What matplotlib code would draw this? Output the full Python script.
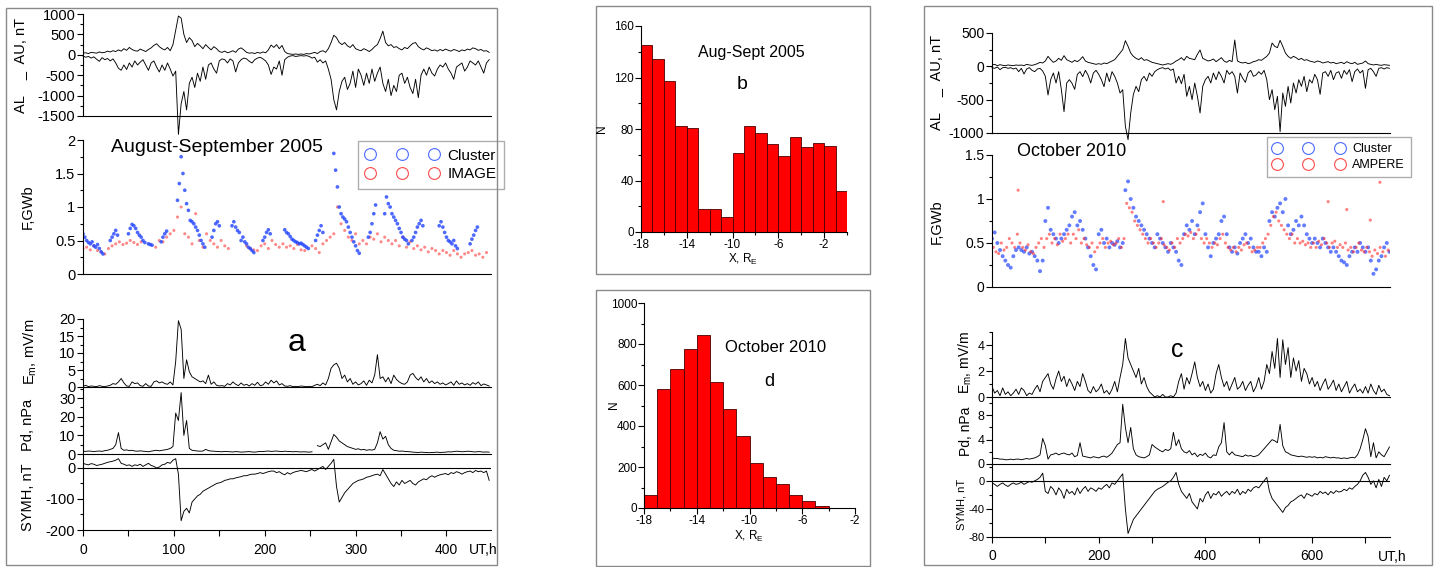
import numpy as np
import matplotlib
matplotlib.use('Agg')
import matplotlib.pyplot as plt
from matplotlib.ticker import MultipleLocator, FuncFormatter
from matplotlib.lines import Line2D
from matplotlib.patches import Rectangle

plt.rcParams['font.family'] = ['Liberation Sans', 'DejaVu Sans']
plt.rcParams['axes.unicode_minus'] = False
plt.rcParams['axes.linewidth'] = 0.8

# ---------------- August-September 2005 (panel a), 3 h samples ----------------
al_05 = [-30, -60, -40, -80, -50, -110, -160, -70, -120, -90,
         -150, -100, -200, -330, -380, -250, -360, -200, -300, -150,
         -250, -180, -120, -250, -380, -200, -150, -300, -420, -250,
         -380, -200, -350, -520, -400, -1950, -1200, -900, -1350, -700,
         -550, -800, -450, -650, -300, -600, -250, -200, -350, -450,
         -150, -100, -120, -200, -100, -150, -420, -200, -120, -80,
         -100, -160, -200, -120, -80, -60, -100, -150, -250, -480,
         -300, -350, -150, -500, -120, -60, -30, -20, -40, -30,
         -20, -30, -20, -40, -80, -60, -180, -120, -200, -150,
         -350, -600, -1100, -1350, -900, -650, -550, -850, -700, -400,
         -800, -350, -500, -750, -450, -700, -350, -650, -450, -300,
         -700, -900, -600, -1000, -750, -900, -500, -450, -700, -550,
         -800, -950, -600, -1050, -500, -350, -500, -300, -450, -520,
         -350, -250, -300, -200, -350, -450, -600, -300, -250, -200,
         -400, -300, -150, -200, -250, -150, -300, -450, -200, -120]
au_05 = [40, 50, 30, 60, 50, 40, 70, 50, 60, 90,
         70, 100, 80, 120, 90, 150, 110, 180, 130, 100,
         90, 140, 110, 80, 130, 170, 230, 270, 200, 150,
         120, 180, 100, 250, 600, 950, 900, 500, 300, 420,
         350, 200, 280, 220, 150, 250, 180, 120, 200, 150,
         80, 60, 90, 50, 70, 100, 60, 140, 170, 120,
         60, 40, 50, 30, 60, 40, 70, 50, 120, 240,
         180, 250, 150, 230, 80, 30, 20, 10, 20, 10,
         20, 10, 30, 20, 40, 60, 30, 80, 100, 60,
         150, 300, 480, 420, 300, 250, 300, 220, 180, 250,
         150, 120, 100, 150, 120, 80, 130, 200, 250, 400,
         580, 300, 220, 250, 180, 200, 150, 120, 180, 150,
         220, 280, 300, 200, 150, 120, 170, 140, 100, 120,
         90, 130, 100, 140, 110, 90, 130, 110, 80, 120,
         100, 140, 120, 170, 150, 110, 130, 90, 100, 60]

cluster05_t = [0, 2, 4, 6, 8, 10, 12, 14, 16, 18, 20, 22,
               30, 32, 34, 36, 38,
               50, 52, 54, 56, 58, 60, 62, 64, 66, 68,
               72, 74, 76,
               86, 88, 90, 92,
               104, 106, 108, 110, 112, 114, 116, 118, 120, 122, 124, 126, 128, 130, 132, 134,
               142, 144, 146, 148, 150,
               164, 166, 168, 170, 172, 174, 176, 178, 180, 182, 184, 186, 188,
               198, 200, 202, 204, 206,
               222, 224, 226, 228, 230, 232, 234, 236, 238, 240, 242, 244, 246, 248,
               256, 258, 260, 262, 264,
               276, 278, 280, 282, 284, 286, 288, 290, 292, 294, 296, 298, 300, 302, 304,
               314, 316, 318, 320, 322,
               332, 334, 336, 338, 340, 342, 344, 346, 348, 350, 352, 354, 356, 358,
               362, 364, 366, 368, 370, 372, 374,
               392, 394, 396, 398, 400, 402, 404, 406, 408, 410, 412,
               426, 428, 430, 432, 434]
cluster05_f = [0.6, 0.55, 0.5, 0.47, 0.45, 0.48, 0.42, 0.4, 0.44, 0.38, 0.33, 0.3,
               0.5, 0.55, 0.6, 0.65, 0.58,
               0.6, 0.68, 0.74, 0.72, 0.68, 0.62, 0.58, 0.55, 0.5, 0.47,
               0.45, 0.44, 0.43,
               0.48, 0.55, 0.6, 0.64,
               1.1, 1.35, 1.75, 1.5, 1.25, 1.05, 0.95, 0.8, 0.78, 0.75, 0.7, 0.65, 0.58, 0.5, 0.45, 0.4,
               0.55, 0.65, 0.75, 0.78, 0.72,
               0.72, 0.78, 0.7, 0.65, 0.62, 0.5, 0.55, 0.48, 0.45, 0.4, 0.38, 0.35, 0.32,
               0.5, 0.55, 0.62, 0.66, 0.6,
               0.66, 0.62, 0.6, 0.56, 0.52, 0.5, 0.48, 0.47, 0.45, 0.46, 0.44, 0.42, 0.4, 0.38,
               0.5, 0.58, 0.65, 0.72, 0.62,
               1.8, 1.55, 1.3, 1.0, 0.9, 0.85, 0.82, 0.78, 0.7, 0.62, 0.55, 0.48, 0.42, 0.35, 0.31,
               0.55, 0.62, 0.75, 0.9, 1.03,
               0.9, 1.15, 1.05, 1.0, 0.9, 0.85, 0.8, 0.75, 0.68, 0.62, 0.55, 0.52, 0.5, 0.45,
               0.5, 0.55, 0.62, 0.7, 0.75, 0.8, 0.72,
               0.72, 0.78, 0.7, 0.62, 0.55, 0.5, 0.48, 0.45, 0.5, 0.42, 0.38,
               0.45, 0.52, 0.58, 0.65, 0.7]

# IMAGE flux, 4 h samples (nan = no data)
nan = np.nan
image05_f = [0.38, 0.40, 0.36, 0.42, 0.35, 0.33,
             0.30, 0.38, 0.42, 0.45, 0.48, 0.44,
             0.46, 0.50, 0.47, 0.44, 0.48, nan,
             nan, nan, 0.40, 0.50, 0.48, 0.55,
             0.60, 0.65, 0.85, 1.0, 0.6, 0.55,
             0.45, 0.9, 0.5, 0.4, 0.6, 0.5,
             0.45, 0.4, 0.5, 0.42, 0.38, nan,
             nan, nan, nan, 0.42, 0.38, 0.36,
             0.35, 0.42, 0.45, 0.38, 0.5, 0.44,
             0.4, 0.45, 0.4, 0.42, 0.38, 0.44,
             0.36, 0.35, nan, 0.42, 0.38, 0.32,
             0.45, 0.5, 0.55, 0.6, 1.0, 0.75,
             0.65, 0.55, 0.5, 0.6, 0.45, 0.5,
             0.45, 0.55, 0.52, 0.6, 0.48, 0.55,
             0.5, 0.45, 0.5, 0.42, 0.55, 0.4,
             0.48, 0.38, 0.42, 0.36, 0.4, 0.33,
             0.38, 0.35, 0.3, 0.35, 0.32, 0.28,
             0.35, 0.3, 0.25, 0.3, 0.32, 0.35,
             0.28, 0.3, 0.25, 0.32, nan]

em_05 = [0.2, 0.5, 0.1, 0.3, 0.2, 0.1, 0.4, 0.2, 0.1, 0.3,
         0.5, 1.0, 0.8, 1.5, 2.5, 1.2, 0.3, 0.2, 1.5, 1.0,
         1.2, 0.4, 0.2, 1.0, 0.3, 0.2, 1.5, 1.8, 1.2, 1.5,
         1.0, 0.8, 1.5, 0.6, 7.5, 19.5, 17.0, 2.5, 8.0, 4.5,
         3.0, 2.5, 2.0, 1.5, 1.8, 1.0, 3.5, 0.8, 1.5, 0.5,
         0.3, 0.4, 0.2, 1.0, 0.6, 1.5, 0.8, 0.4, 1.2, 0.5,
         0.8, 0.3, 1.0, 0.5, 1.4, 0.4, 0.6, 1.5, 0.8, 2.0,
         1.2, 1.8, 0.6, 1.0, 0.3, 0.2, 0.4, 0.1, 0.2, 0.1,
         0.3, 0.2, 0.1, 0.2, 0.1, 0.5, 0.8, 0.4, 1.2, 0.6,
         2.5, 5.5, 6.5, 7.0, 5.5, 2.5, 3.5, 1.5, 2.5, 0.8,
         1.5, 0.6, 1.0, 1.8, 0.5, 2.0, 1.2, 3.5, 9.5, 2.5,
         3.0, 1.5, 2.8, 1.0, 3.5, 2.2, 1.5, 1.0, 0.8, 1.5,
         3.5, 4.0, 2.8, 2.0, 3.0, 1.5, 2.5, 1.2, 1.8, 1.0,
         1.5, 0.8, 1.2, 0.6, 1.0, 1.5, 0.5, 1.8, 0.8, 1.2,
         0.6, 1.0, 0.5, 1.3, 0.8, 1.5, 0.4, 0.9, 0.6, 0.3]
pd_05 = [1.5, 1.4, 1.6, 1.5, 1.3, 1.5, 1.6, 1.4, 1.8, 2.0,
         2.5, 3.0, 5.0, 11.5, 3.0, 2.0, 2.2, 1.8, 2.0, 1.6,
         1.5, 1.7, 1.5, 1.4, 1.2, 1.5, 1.8, 2.0, 1.7, 2.0,
         2.2, 2.5, 3.0, 4.0, 22.0, 18.0, 33.0, 10.0, 18.0, 3.0,
         2.0, 1.8, 1.6, 1.5, 1.6, 2.5, 1.8, 1.6, 1.5, 1.4,
         1.3, 1.2, 1.4, 1.3, 1.2, 1.1, 1.3, 1.2, 1.0, 1.1,
         1.2, 1.3, 1.1, 1.0, 1.2, 1.4, 1.3, 1.5, 1.6, 1.4,
         1.5, 1.6, 1.4, 1.3, 1.5, 1.4, 1.3, 1.2, 1.3, 1.2,
         1.1, 1.2, 1.1, 1.0, 1.2, nan, 4.5, 4.0, 5.0, 6.0,
         2.5, 6.5, 10.5, 9.0, 7.0, 6.0, 5.0, 4.0, 3.5, 3.0,
         2.5, 2.8, 2.2, 2.5, 2.0, 2.3, 2.1, 2.5, 6.0, 12.0,
         8.0, 9.5, 5.0, 3.0, 2.0, 1.8, 1.5, 1.6, 1.4, 1.3,
         1.2, 1.0, 0.9, 0.8, 1.0, 0.9, 0.8, 0.7, 0.8, 0.9,
         1.0, 0.8, 0.9, 1.0, 1.2, 1.1, 1.3, 1.5, 1.4, 1.2,
         1.3, 1.5, 1.4, 1.2, 1.1, 1.3, 1.2, 1.0, 1.1, 1.0]
symh_05 = [15, 12, 10, 14, 12, 8, 10, 12, 15, 18,
           20, 22, 25, 30, 15, 12, 8, 10, 5, 10,
           8, 12, 5, 10, 15, 8, 5, 0, 3, 10,
           12, 18, 15, 25, 30, -20, -170, -140, -130, -145,
           -110, -100, -90, -85, -75, -70, -65, -60, -55, -50,
           -48, -45, -40, -38, -35, -35, -32, -30, -28, -25,
           -25, -22, -20, -20, -18, -15, -18, -15, -12, -10,
           -10, -15, -12, -18, -22, -15, -20, -15, -12, -10,
           -8, -10, -12, -8, -5, -10, -5, 0, 5, -5,
           5, 15, 28, -60, -110, -95, -80, -70, -60, -50,
           -45, -40, -38, -35, -30, -28, -25, -22, -20, -25,
           -5, -20, -35, -50, -60, -45, -55, -40, -50, -45,
           -40, -50, -55, -45, -40, -35, -38, -30, -25, -30,
           -25, -22, -20, -18, -22, -15, -18, -12, -15, -20,
           -15, -12, -10, -15, -8, -12, -10, -15, -10, -40]

# ---------------- October 2010 (panel c), 5 h samples ----------------
al_10 = [-20, -30, -10, -50, -20, -15, -30, -20, -40, -25,
         -80, -30, -115, -40, -20, -60, -80, -40, -30, -70,
         -150, -430, -200, -100, -250, -80, -350, -680, -250, -200,
         -255, -345, -120, -80, -155, -60, -130, -250, -100, -60,
         -120, -200, -305, -100, -230, -80, -150, -250, -400, -350,
         -900, -1100, -700, -420, -300, -380, -200, -150, -220, -100,
         -150, -80, -50, -30, -20, -40, -25, -60, -40, -250,
         -150, -260, -120, -450, -300, -500, -250, -450, -700, -300,
         -200, -150, -250, -100, -200, -80, -150, -250, -60, -120,
         -80, -150, -400, -100, -180, -240, -100, -60, -150, -130,
         -80, -120, -60, -200, -500, -350, -650, -450, -980, -400,
         -600, -300, -550, -250, -400, -200, -300, -150, -380, -200,
         -250, -120, -200, -420, -100, -80, -150, -60, -200, -100,
         -80, -180, -60, -120, -50, -230, -80, -40, -100, -60,
         -330, -50, -30, -80, -150, -30, -20, -40, -20, -30]
au_10 = [20, 30, 10, 25, 15, 10, 20, 15, 10, 20,
         15, 20, 10, 30, 20, 15, 25, 40, 60, 50,
         80, 150, 100, 60, 80, 120, 90, 160, 100, 80,
         60, 90, 70, 100, 145, 80, 60, 50, 40, 30,
         40, 30, 50, 40, 60, 80, 100, 150, 200, 250,
         385, 300, 200, 150, 120, 100, 130, 90, 100, 80,
         60, 50, 40, 30, 20, 30, 40, 30, 50, 80,
         100, 130, 90, 150, 120, 110, 100, 180, 245, 120,
         100, 80, 90, 110, 70, 100, 130, 80, 60, 90,
         70, 395, 80, 60, 50, 60, 40, 50, 70, 80,
         100, 90, 120, 150, 200, 350, 300, 280, 390, 300,
         200, 150, 120, 150, 130, 100, 120, 90, 100, 80,
         70, 60, 80, 70, 50, 60, 70, 50, 60, 40,
         50, 60, 40, 70, 50, 40, 60, 30, 40, 50,
         80, 40, 30, 20, 30, 20, 15, 25, 20, 15]

cluster10_f = [0.55, 0.62, 0.5, 0.42, 0.35, 0.3, 0.25, 0.22, 0.35, 0.42,
               0.45, 0.42, 0.4, 0.45, 0.38, 0.4, 0.35, 0.3, 0.18, 0.3,
               0.75, 0.9, 0.65, 0.6, 0.55, 0.5, 0.55, 0.6, 0.65, 0.7,
               0.8, 0.85, 0.7, 0.75, 0.65, 0.55, 0.45, 0.35, 0.25, 0.2,
               0.6, 0.65, 0.5, 0.55, 0.45, 0.5, 0.48, 0.52, 0.45, 0.5,
               1.1, 1.2, 1.0, 0.9, 0.8, 0.75, 0.7, 0.65, 0.6, 0.55,
               0.5, 0.45, 0.6, 0.55, 0.5, 0.45, 0.4, 0.5, 0.45, 0.4,
               0.3, 0.25, 0.6, 0.7, 0.65, 0.75, 0.6, 0.7, 0.85, 0.95,
               0.6, 0.45, 0.35, 0.5, 0.55, 0.6, 0.75, 0.8, 0.6, 0.45,
               0.4, 0.45, 0.38, 0.5, 0.55, 0.6, 0.5, 0.55, 0.45, 0.4,
               0.4, 0.35, 0.45, 0.4, 0.75, 0.85, 0.8, 0.9, 0.95, 0.85,
               1.0, 0.7, 0.6, 0.65, 0.75, 0.7, 0.8, 0.7, 0.6, 0.55,
               0.5, 0.55, 0.5, 0.45, 0.55, 0.5, 0.45, 0.4, 0.45, 0.4,
               0.35, 0.3, 0.28, 0.25, 0.35, 0.4, 0.45, 0.4, 0.5, 0.45,
               0.4, 0.45, 0.3, 0.15, 0.2, 0.3, 0.35, 0.45, 0.5, 0.4]
ampere10_f = [0.45, 0.4, 0.38, 0.5, 0.42, 0.45, 0.55, 0.5, 0.45, 0.6,
              0.5, 0.45, 0.42, 0.48, 0.4, 0.38, 0.45, 0.5, 0.55, 0.45,
              0.55, 0.6, 0.5, 0.55, 0.48, 0.6, 0.52, 0.55, 0.6, 0.5,
              0.6, 0.55, 0.65, 0.5, 0.55, 0.48, 0.45, 0.5, 0.4, 0.45,
              0.5, 0.55, 0.45, 0.5, 0.52, 0.48, 0.5, 0.55, 0.45, 0.55,
              0.95, 0.9, 0.85, 0.75, 0.7, 0.65, 0.6, 0.55, 0.5, 0.55,
              0.5, 0.45, 0.5, 0.55, 0.48, 0.45, 0.42, 0.5, 0.45, 0.55,
              0.5, 0.55, 0.6, 0.58, 0.62, 0.55, 0.6, 0.65, 0.55, 0.5,
              0.55, 0.5, 0.45, 0.5, 0.48, 0.55, 0.6, 0.5, 0.45, 0.42,
              0.45, 0.4, 0.45, 0.42, 0.48, 0.5, 0.45, 0.4, 0.42, 0.45,
              0.45, 0.5, 0.55, 0.6, 0.7, 0.8, 0.85, 0.75, 0.7, 0.65,
              0.6, 0.55, 0.6, 0.5, 0.55, 0.5, 0.52, 0.48, 0.5, 0.45,
              0.5, 0.45, 0.52, 0.48, 0.55, 0.5, 0.45, 0.5, 0.52, 0.45,
              0.48, 0.45, 0.5, 0.42, 0.45, 0.4, 0.45, 0.5, 0.42, 0.4,
              0.45, 0.4, 0.35, 0.42, 0.38, 0.45, 0.4, 0.35, 0.42, 0.4]
ampere10_out_t = [49, 321, 630, 665, 709, 727]
ampere10_out_f = [1.1, 0.97, 0.97, 0.88, 0.76, 1.19]

em_10 = [0.8, 0.3, 0.5, 0.1, 0.7, 0.2, 0.4, 0.1, 0.3, 0.6,
         0.2, 0.7, 0.5, 0.1, 0.3, 0.2, 0.6, 0.9, 0.4, 1.2,
         1.5, 1.8, 1.0, 0.6, 1.4, 2.0, 1.2, 1.6, 0.8, 1.4,
         1.0, 0.5, 1.2, 0.8, 1.8, 1.2, 0.5, 0.3, 0.8, 0.4,
         0.6, 1.0, 0.3, 0.5, 0.2, 0.6, 1.2, 0.4, 1.5, 2.5,
         4.5, 3.0, 2.5, 2.0, 1.5, 2.2, 1.0, 1.5, 0.8, 0.4,
         0.2, 0.0, 0.1, 0.0, 0.2, 0.0, 0.0, 0.1, 0.0, 0.3,
         1.2, 1.8, 0.6, 1.5, 1.0, 1.8, 2.7, 1.5, 0.8, 1.2,
         0.5, 1.0, 0.3, 0.6, 1.8, 2.5, 1.5, 0.8, 1.2, 0.5,
         1.0, 1.5, 0.6, 0.8, 1.2, 0.5, 0.9, 1.2, 0.4, 0.8,
         1.5, 0.6, 1.2, 2.5, 1.8, 3.5, 2.2, 4.5, 1.5, 4.4,
         2.5, 3.8, 1.5, 3.0, 2.0, 2.8, 1.2, 2.2, 1.8, 1.0,
         1.5, 0.8, 1.2, 0.5, 1.0, 1.4, 0.6, 0.9, 1.3, 0.5,
         1.0, 0.4, 0.8, 1.2, 0.3, 0.7, 1.0, 0.4, 0.6, 0.3,
         0.8, 0.3, 1.0, 0.5, 0.2, 0.9, 0.4, 0.6, 0.2, 0.1]
pd_10 = [1.0, 0.9, 0.9, 0.8, 0.8, 0.7, 0.7, 0.8, 0.7, 0.8,
         0.8, 0.7, 0.8, 0.9, 0.8, 0.9, 1.0, 1.2, 1.5, 4.2,
         3.0, 0.8, 1.5, 1.6, 1.8, 1.5, 1.7, 1.8, 1.6, 1.5,
         1.8, 1.2, 1.4, 3.5, 1.3, 1.2, 1.1, 1.0, 1.2, 1.1,
         1.0, 1.2, 1.3, 1.1, 1.4, 1.8, 2.5, 3.2, 3.5, 9.8,
         6.0, 3.5, 6.0, 2.5, 1.5, 1.2, 1.1, 1.0, 1.2, 1.5,
         3.2, 2.8, 2.5, 2.2, 2.0, 2.4, 2.2, 2.5, 5.2, 3.0,
         4.0, 2.5, 2.0, 1.8, 2.2, 1.5, 1.8, 1.2, 1.6, 1.4,
         1.8, 1.2, 1.0, 1.5, 1.4, 2.8, 3.5, 6.8, 2.0, 1.5,
         2.0, 1.5, 1.4, 1.3, 1.2, 1.5, 1.3, 1.4, 1.2, 1.3,
         1.5, 2.0, 2.5, 3.0, 3.5, 4.0, 3.8, 3.5, 6.5, 3.0,
         2.0, 1.8, 1.5, 1.4, 1.3, 1.2, 1.3, 1.2, 1.1, 1.2,
         1.1, 1.2, 1.0, 1.1, 1.0, 1.2, 1.1, 1.0, 1.1, 1.0,
         1.0, 0.9, 1.0, 0.9, 1.0, 1.1, 1.0, 1.5, 2.5, 4.0,
         5.8, 4.5, 1.2, 3.5, 1.0, 2.0, 1.5, 1.2, 2.0, 2.8]
symh_10 = [-3, -5, -8, -5, -3, -6, -8, -5, -3, -5,
           -4, -2, -5, -3, -1, -2, 0, 2, 5, 11,
           -15, -18, -8, -12, -20, -10, -15, -25, -12, -18,
           -15, -20, -10, -18, -12, -8, -15, -10, -12, -15,
           -10, -12, -8, -5, -10, -3, -5, 0, 5, 10,
           -40, -75, -65, -55, -50, -45, -40, -35, -30, -25,
           -20, -15, -12, -10, -8, -5, -2, 0, 5, 12,
           -5, -15, -20, -25, -18, -30, -35, -40, -25, -30,
           -20, -15, -25, -18, -20, -15, -22, -18, -15, -20,
           -15, -18, -12, -20, -15, -18, -12, -15, -10, -8,
           -10, -5, 0, 5, -15, -25, -30, -35, -40, -45,
           -38, -35, -30, -28, -25, -22, -20, -25, -18, -20,
           -22, -18, -20, -15, -18, -16, -20, -15, -18, -14,
           -16, -15, -12, -14, -10, -12, -8, -5, 0, 8,
           12, 5, -5, 0, -10, 2, -8, 5, 0, 8]

# ---------------- histograms (b, d) ----------------
bins_b = np.arange(-18, 1)
counts_b = [145, 134, 117, 82, 81, 18, 18, 12, 61, 82, 77, 68, 59, 74, 66, 69, 67, 32]
bins_d = np.arange(-18, -1)
counts_d = [63, 580, 678, 776, 844, 616, 483, 353, 220, 151, 115, 63, 34, 11, 0, 0]

W, H = 1437, 567
fig = plt.figure(figsize=(W / 100, H / 100), dpi=100)


def box(l, t, r, b):
    return [l / W, 1 - b / H, (r - l) / W, (b - t) / H]


def ftext(x, y, s, **kw):
    kw.setdefault('ha', 'center')
    kw.setdefault('va', 'center')
    fig.text(x / W, 1 - y / H, s, **kw)


def frame(l, t, r, b):
    fig.add_artist(Rectangle((l / W, 1 - b / H), (r - l) / W, (b - t) / H,
                             transform=fig.transFigure, fill=False,
                             ec='#8a8a8a', lw=1.0))


def style_ts(ax, xmax, ylim, major, minor, fs):
    ax.set_xlim(0, xmax)
    ax.set_ylim(*ylim)
    ax.spines[['top', 'right']].set_visible(False)
    ax.yaxis.set_major_locator(MultipleLocator(major))
    ax.yaxis.set_minor_locator(MultipleLocator(minor))
    ax.yaxis.set_major_formatter(FuncFormatter(lambda v, p: f'{v:g}'))
    ax.tick_params(axis='y', which='major', direction='out', length=4,
                   width=0.8, labelsize=fs, pad=1.5)
    ax.tick_params(axis='y', which='minor', direction='out', length=2.5, width=0.8)
    ax.tick_params(axis='x', which='both', bottom=False, labelbottom=False)
    ax.patch.set_alpha(0)


def style_time_axis(ax, major, minor):
    ax.xaxis.set_major_locator(MultipleLocator(major))
    ax.xaxis.set_minor_locator(MultipleLocator(minor))
    ax.tick_params(axis='x', which='major', bottom=True, labelbottom=True,
                   direction='out', length=4, width=0.8, labelsize=10, pad=5)
    ax.tick_params(axis='x', which='minor', bottom=True, direction='out',
                   length=4, width=0.8)


blue = '#2244ff'
red = '#ff2a2a'
lw_ts = 0.65

# ======================= panel a =======================
t3 = np.arange(len(al_05)) * 3
t4 = np.arange(len(image05_f)) * 4
xa = 449

ax = fig.add_axes(box(83, 14, 491, 116))
ax.plot(t3, au_05, color='k', lw=lw_ts)
ax.plot(t3, al_05, color='k', lw=lw_ts, clip_on=False)
style_ts(ax, xa, (-1500, 1000), 500, 250, 10.5)

ax = fig.add_axes(box(83, 140, 491, 274))
ax.scatter(t4, image05_f, s=5, color=red, alpha=0.55, edgecolors='none')
ax.scatter(cluster05_t, cluster05_f, s=7, color=blue, alpha=0.8, edgecolors='none')
style_ts(ax, xa, (0, 2), 0.5, 0.25, 10.5)
h_cl = Line2D([0], [0], marker='o', ls='none', mfc='none', mec='#4a6aff', ms=8.5, mew=0.8)
h_im = Line2D([0], [0], marker='o', ls='none', mfc='none', mec='#ff4a4a', ms=8.5, mew=0.8)
leg = ax.legend([h_cl, h_im], ['Cluster', 'IMAGE'], numpoints=3, handlelength=4.8,
                handletextpad=0.55, labelspacing=0.3, fontsize=11, borderpad=0.5,
                loc='upper left', bbox_to_anchor=(358 / W, 1 - 141 / H),
                bbox_transform=fig.transFigure, borderaxespad=0, fancybox=False)
leg.get_frame().set_edgecolor('#9a9a9a')
leg.get_frame().set_linewidth(1.0)

ax = fig.add_axes(box(83, 319, 491, 387))
ax.plot(t3, em_05, color='k', lw=lw_ts)
style_ts(ax, xa, (0, 20), 5, 2.5, 10.5)

ax = fig.add_axes(box(83, 387, 491, 454))
ax.plot(t3, pd_05, color='k', lw=lw_ts)
style_ts(ax, xa, (0, 36), 10, 5, 10.5)

ax = fig.add_axes(box(83, 454, 491, 530))
ax.plot(t3, symh_05, color='k', lw=lw_ts)
ax.axhline(0, color='k', lw=0.8)
style_ts(ax, xa, (-200, 45), 100, 50, 10.5)
style_time_axis(ax, 100, 50)
ax.set_xticks([0, 100, 200, 300, 400])

ftext(20, 65, 'AL    _  AU, nT', rotation=90, fontsize=10.5)
ftext(28, 207, 'F,GWb', rotation=90, fontsize=10.5)
ftext(30, 352, r'E$_\mathregular{m}$, mV/m', rotation=90, fontsize=10.5)
ftext(28, 425, 'Pd, nPa', rotation=90, fontsize=10.5)
ftext(28, 497, 'SYMH, nT', rotation=90, fontsize=10.5)
ftext(483, 550, 'UT,h', fontsize=10)
ftext(217, 147, 'August-September 2005', fontsize=14)
ftext(297, 343, 'a', fontsize=23)
frame(6, 8, 497, 565)

# ======================= panel c =======================
t5 = np.arange(len(al_10)) * 5
xc = 746

ax = fig.add_axes(box(992, 33, 1390, 133))
ax.plot(t5, au_10, color='k', lw=lw_ts)
ax.plot(t5, al_10, color='k', lw=lw_ts, clip_on=False)
style_ts(ax, xc, (-1000, 500), 500, 250, 10)

ax = fig.add_axes(box(992, 155, 1390, 287))
ax.scatter(t5, cluster10_f, s=8, color=blue, alpha=0.7, edgecolors='none')
ax.scatter(t5 + 2.5, ampere10_f, s=5, color=red, alpha=0.6, edgecolors='none')
ax.scatter(ampere10_out_t, ampere10_out_f, s=5, color=red, alpha=0.6, edgecolors='none')
style_ts(ax, xc, (0, 1.5), 0.5, 0.25, 10)
h_am = Line2D([0], [0], marker='o', ls='none', mfc='none', mec='#ff4a4a', ms=8.5, mew=0.8)
leg = ax.legend([h_cl, h_am], ['Cluster', 'AMPERE'], numpoints=3, handlelength=5.6,
                handletextpad=0.7, labelspacing=0.3, fontsize=9, borderpad=0.5,
                loc='upper left', bbox_to_anchor=(1267 / W, 1 - 137 / H),
                bbox_transform=fig.transFigure, borderaxespad=0, fancybox=False)
leg.get_frame().set_edgecolor('#9a9a9a')
leg.get_frame().set_linewidth(1.0)

ax = fig.add_axes(box(992, 332, 1390, 397))
ax.plot(t5, em_10, color='k', lw=lw_ts)
style_ts(ax, xc, (0, 5), 2, 1, 9)

ax = fig.add_axes(box(992, 397, 1390, 464))
ax.plot(t5, pd_10, color='k', lw=lw_ts)
style_ts(ax, xc, (0, 11), 4, 2, 9)

ax = fig.add_axes(box(992, 464, 1390, 537))
ax.plot(t5, symh_10, color='k', lw=lw_ts)
ax.axhline(0, color='k', lw=0.8)
style_ts(ax, xc, (-80, 24), 40, 20, 8)
style_time_axis(ax, 200, 100)
ax.set_xticks([0, 200, 400, 600])

ftext(936, 82, 'AL    _  AU, nT', rotation=90, fontsize=10.5)
ftext(937, 222, 'F,GWb', rotation=90, fontsize=10.5)
ftext(965, 363, r'E$_\mathregular{m}$, mV/m', rotation=90, fontsize=10)
ftext(966, 431, 'Pd, nPa', rotation=90, fontsize=10)
ftext(962, 504, 'SYMH, nT', rotation=90, fontsize=8)
ftext(1392, 557, 'UT,h', fontsize=10)
ftext(1072, 151, 'October 2010', fontsize=13)
ftext(1177, 350, 'c', fontsize=18)
frame(924, 6, 1432, 565)


# ======================= histograms =======================
def style_hist(ax, xlim, ylim, ymajor, yminor):
    ax.set_xlim(*xlim)
    ax.set_ylim(*ylim)
    ax.spines[['top', 'right']].set_visible(False)
    ax.set_xticks([-18, -14, -10, -6, -2])
    ax.xaxis.set_minor_locator(MultipleLocator(2))
    ax.yaxis.set_major_locator(MultipleLocator(ymajor))
    ax.yaxis.set_minor_locator(MultipleLocator(yminor))
    ax.tick_params(which='major', direction='out', length=4, width=0.8,
                   labelsize=8.5, pad=1)
    ax.tick_params(which='minor', direction='out', length=2.5, width=0.8)


ax = fig.add_axes(box(641, 26, 847, 232))
ax.bar(bins_b[:-1], counts_b, width=1, align='edge', color='#ff0000',
       edgecolor='#4a0000', lw=0.6)
style_hist(ax, (-18, 0), (0, 160), 40, 20)
ftext(751, 52, 'Aug-Sept 2005', fontsize=11.5)
ftext(742, 85, 'b', fontsize=14)
ftext(602, 129, 'N', rotation=90, fontsize=8.5)
ftext(743, 259, r'X, R$_\mathregular{E}$', fontsize=8.5)
frame(596, 6, 870, 274)

ax = fig.add_axes(box(644, 303, 855, 508))
ax.bar(bins_d[:-1], counts_d, width=1, align='edge', color='#ff0000',
       edgecolor='#4a0000', lw=0.6)
style_hist(ax, (-18, -2), (0, 1000), 200, 100)
ftext(776, 347, 'October 2010', fontsize=12)
ftext(769, 382, 'd', fontsize=13)
ftext(614, 405, 'N', rotation=90, fontsize=8.5)
ftext(749, 536, r'X, R$_\mathregular{E}$', fontsize=8.5)
frame(596, 290, 870, 566)

fig.savefig('out.png', dpi=100)
